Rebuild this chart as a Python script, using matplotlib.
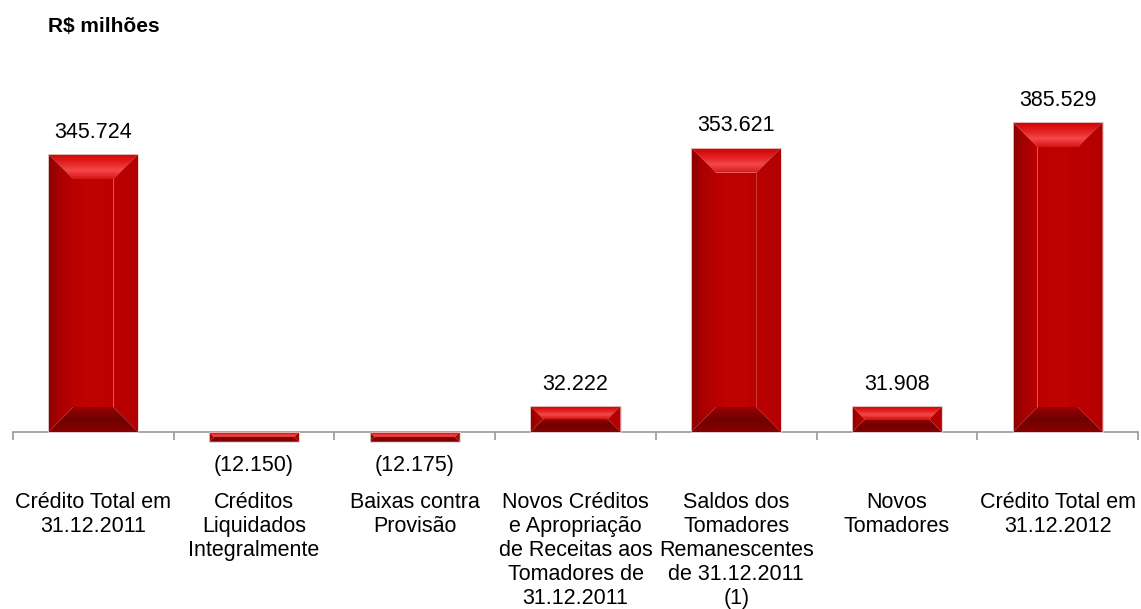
import numpy as np
import matplotlib.pyplot as plt
from matplotlib.patches import Polygon
from matplotlib.colors import LinearSegmentedColormap

# dados (R$ milhões)
categorias = ["Crédito Total em\n31.12.2011",
              "Créditos\nLiquidados\nIntegralmente",
              "Baixas contra\nProvisão",
              "Novos Créditos\ne Apropriação\nde Receitas aos\nTomadores de\n31.12.2011",
              "Saldos dos\nTomadores\nRemanescentes\nde 31.12.2011\n(1)",
              "Novos\nTomadores",
              "Crédito Total em\n31.12.2012"]
valores = [345724, -12150, -12175, 32222, 353621, 31908, 385529]

plt.rcParams['font.family'] = ['Liberation Sans', 'DejaVu Sans']

W, H = 1141, 609
fig = plt.figure(figsize=(W/100, H/100), dpi=100)
ax = fig.add_axes([13/W, 0, 1125/W, 1])

zero_px = 432              # pixel row of the zero line (from top)
px_per_unit = 0.804/1000   # vertical scale
ax.set_xlim(-0.5, len(valores)-0.5)
ax.set_ylim(-(H-zero_px)/px_per_unit, zero_px/px_per_unit)
px_per_cat = 1125/len(valores)

def grad(*cols):
    return LinearSegmentedColormap.from_list('g', [np.array(c)/255 for c in cols])

def fill_grad(poly, cmap, vertical):
    xs = [p[0] for p in poly]; ys = [p[1] for p in poly]
    g = np.linspace(0, 1, 64)
    img = g[:, None] if vertical else g[None, :]
    im = ax.imshow(img, cmap=cmap, aspect='auto', origin='lower',
                   extent=[min(xs), max(xs), min(ys), max(ys)],
                   interpolation='bilinear', zorder=2, vmin=0, vmax=1)
    p = Polygon(poly, closed=True, facecolor='none', edgecolor='none')
    ax.add_patch(p)
    im.set_clip_path(p)

largura = 0.56
for i, v in enumerate(valores):
    x0, x1 = i - largura/2, i + largura/2
    yb, yt = min(0, v), max(0, v)
    h_px = abs(v)*px_per_unit
    b = min(25, h_px/2, largura*px_per_cat/2)
    bx = b/px_per_cat
    by = b/px_per_unit
    # face
    face = [(x0+bx, yb+by), (x1-bx, yb+by), (x1-bx, yt-by), (x0+bx, yt-by)]
    fill_grad(face, grad((186, 0, 0), (194, 2, 2), (186, 0, 0)), vertical=False)
    # bevel de cima
    top = [(x0, yt), (x1, yt), (x1-bx, yt-by), (x0+bx, yt-by)]
    fill_grad(top, grad((215, 20, 20), (245, 72, 72), (226, 30, 30), (206, 2, 2)), vertical=True)
    # bevel de baixo
    bot = [(x0, yb), (x1, yb), (x1-bx, yb+by), (x0+bx, yb+by)]
    fill_grad(bot, grad((135, 0, 0), (112, 0, 0), (150, 0, 0)), vertical=True)
    # bevel esquerdo
    left = [(x0, yb), (x0+bx, yb+by), (x0+bx, yt-by), (x0, yt)]
    fill_grad(left, grad((140, 0, 0), (170, 0, 0), (184, 0, 0)), vertical=False)
    # bevel direito
    right = [(x1, yb), (x1-bx, yb+by), (x1-bx, yt-by), (x1, yt)]
    fill_grad(right, grad((188, 0, 0), (178, 0, 0)), vertical=False)
    ax.add_patch(Polygon([(x0, yb), (x1, yb), (x1, yt), (x0, yt)], closed=True,
                         facecolor='none', edgecolor='#e6d2d2', linewidth=0.6, zorder=3))

    txt = f"{abs(v):,}".replace(',', '.')
    if v >= 0:
        ax.text(i, v + 22/px_per_unit, txt, ha='center', va='center', fontsize=15.5, zorder=4)
    else:
        ax.text(i, -33/px_per_unit, txt.join('()'), ha='center', va='center', fontsize=15.5, zorder=4)
    ax.text(i, -60/px_per_unit, categorias[i], ha='center', va='top', fontsize=15.5,
            linespacing=1.19, zorder=4)

# eixo
for s in ['left', 'right', 'top']:
    ax.spines[s].set_visible(False)
ax.spines['bottom'].set_position(('data', 0))
ax.spines['bottom'].set_color('#a0a0a0')
ax.spines['bottom'].set_linewidth(1.3)
ax.spines['bottom'].set_zorder(1)
ax.set_xticks(np.arange(-0.5, len(valores)))
ax.tick_params(axis='x', direction='out', length=6, width=1.3, color='#a0a0a0', labelbottom=False)
ax.set_yticks([])
ax.patch.set_alpha(0)

fig.text(48/W, 1 - 27/H, "R$ milhões", fontsize=15, fontweight='bold', va='center')

fig.savefig('out.png', dpi=100)
